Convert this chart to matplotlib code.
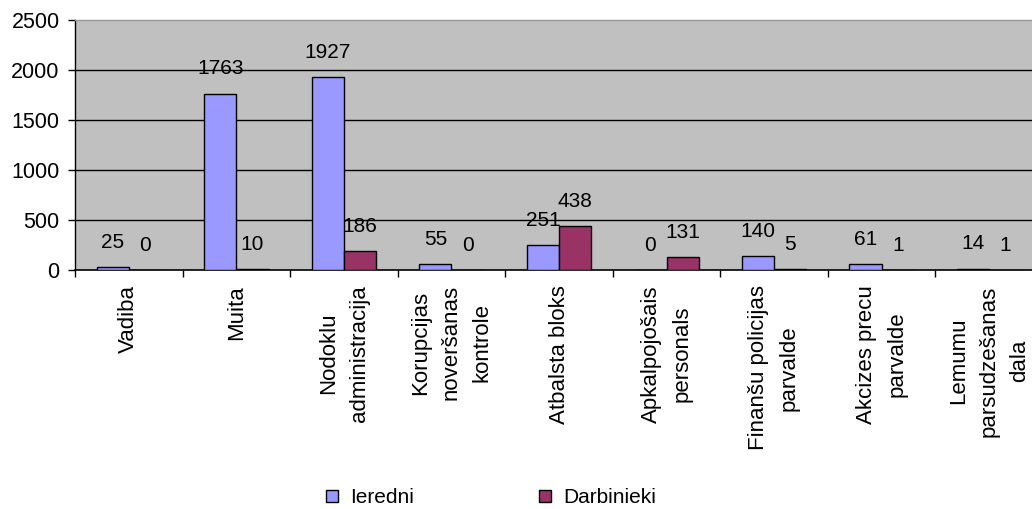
import numpy as np
import matplotlib
matplotlib.use("Agg")
import matplotlib.pyplot as plt
from matplotlib.ticker import FixedLocator

plt.rcParams['font.family'] = ['Liberation Sans', 'DejaVu Sans']

# dati
kategorijas = ["Vadiba", "Muita", "Nodoklu\nadministracija",
               "Korupcijas\nnoveršanas\nkontrole", "Atbalsta bloks",
               "Apkalpojošais\npersonals", "Finanšu policijas\nparvalde",
               "Akcizes precu\nparvalde", "Lemumu\nparsudzešanas\ndala"]
ieredni = [25, 1763, 1927, 55, 251, 0, 140, 61, 14]
darbinieki = [0, 10, 186, 0, 438, 131, 5, 1, 1]

zils = '#9999FF'
sarkans = '#993366'

fig = plt.figure(figsize=(10.32, 5.09), dpi=100)
ax = fig.add_axes([0.0727, 0.4696, 0.938, 0.4912])
ax.set_facecolor('#C0C0C0')

x = np.arange(len(kategorijas))
w = 0.3
b1 = ax.bar(x - w / 2, ieredni, w, color=zils, edgecolor='black', linewidth=1, label='Ieredni', zorder=3)
b2 = ax.bar(x + w / 2, darbinieki, w, color=sarkans, edgecolor='black', linewidth=1, label='Darbinieki', zorder=3)

ax.bar_label(b1, padding=11, fontsize=15)
ax.bar_label(b2, padding=11, fontsize=15)

ax.set_xlim(-0.5, len(kategorijas) - 0.5)
ax.set_ylim(0, 2500)
ax.set_yticks([0, 500, 1000, 1500, 2000, 2500])
for yv in [500, 1000, 1500, 2000]:
    ax.axhline(yv, color='black', linewidth=1, zorder=1)

ax.set_xticks(x)
ax.set_xticklabels(kategorijas, rotation=90, va='top', ha='center',
                   multialignment='center', linespacing=1.6, fontsize=16)
ax.tick_params(axis='x', length=0, pad=11)
ax.xaxis.set_minor_locator(FixedLocator(np.arange(len(kategorijas) + 1) - 0.5))
ax.tick_params(axis='x', which='minor', length=5, width=1, direction='out')
ax.tick_params(axis='y', length=5, width=1, direction='out', labelsize=15.5, pad=6)

ax.spines['right'].set_visible(False)
ax.spines['top'].set_color('#999999')
ax.spines['top'].set_linewidth(1)
ax.spines['left'].set_linewidth(1)
ax.spines['bottom'].set_linewidth(1.2)

fig.legend(loc='center', bbox_to_anchor=(0.476, 0.022), ncol=2, frameon=False,
           fontsize=15, handlelength=0.55, handleheight=0.55, handletextpad=0.6,
           columnspacing=6.0)

fig.savefig('out.png', dpi=100)
